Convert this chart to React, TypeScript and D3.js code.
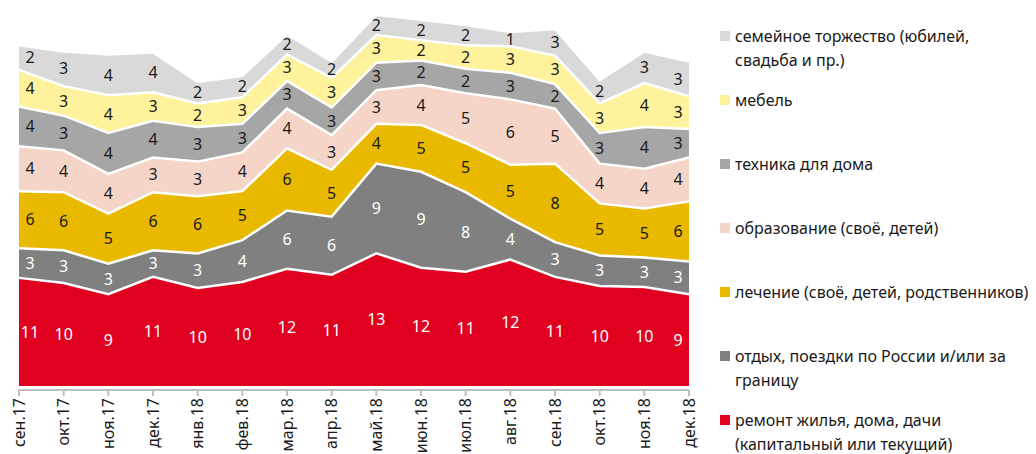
import React from 'react';
import * as d3 from 'd3';

const months = ['сен.17', 'окт.17', 'ноя.17', 'дек.17', 'янв.18', 'фев.18', 'мар.18', 'апр.18',
  'май.18', 'июн.18', 'июл.18', 'авг.18', 'сен.18', 'окт.18', 'ноя.18', 'дек.18'];

// bottom to top
const remont = [10.6, 10.1, 9.0, 10.7, 9.6, 10.2, 11.5, 10.9, 13.0, 11.6, 11.2, 12.4, 10.7, 9.8, 9.7, 9.0];
const otdyh = [2.9, 3.2, 3.0, 2.6, 3.4, 4.1, 5.7, 5.7, 8.8, 9.4, 7.8, 4.0, 3.4, 3.0, 2.9, 3.2];
const lechenie = [5.6, 5.7, 4.9, 5.7, 5.6, 4.8, 6.1, 4.6, 3.9, 4.6, 4.8, 5.3, 7.7, 5.1, 4.8, 5.9];
const obrazovanie = [4.4, 4.1, 3.9, 3.4, 3.4, 3.8, 3.9, 3.4, 3.3, 3.9, 4.9, 6.4, 5.4, 3.9, 3.9, 4.3];
const tehnika = [3.9, 3.4, 4.0, 3.6, 3.4, 2.8, 2.7, 2.7, 2.7, 2.4, 2.4, 2.6, 2.4, 3.0, 4.1, 2.8];
const mebel = [3.6, 2.9, 3.7, 2.8, 2.3, 2.6, 2.6, 2.9, 2.7, 2.0, 2.3, 2.6, 2.8, 2.9, 4.3, 3.2];
const torzhestvo = [2.4, 3.4, 4.0, 3.9, 2.1, 2.1, 2.0, 1.6, 2.0, 2.0, 2.0, 1.4, 2.6, 2.3, 3.1, 3.4];

const series = [
  { key: 'remont', values: remont, color: '#e0001f', text: '#ffffff', label: ['ремонт жилья, дома, дачи', '(капитальный или текущий)'] },
  { key: 'otdyh', values: otdyh, color: '#808080', text: '#ffffff', label: ['отдых, поездки по России и/или за', 'границу'] },
  { key: 'lechenie', values: lechenie, color: '#e9b900', text: '#1a1a1a', label: ['лечение (своё, детей, родственников)'] },
  { key: 'obrazovanie', values: obrazovanie, color: '#f6d5c9', text: '#1a1a1a', label: ['образование (своё, детей)'] },
  { key: 'tehnika', values: tehnika, color: '#a6a6a6', text: '#1a1a1a', label: ['техника для дома'] },
  { key: 'mebel', values: mebel, color: '#fef29c', text: '#1a1a1a', label: ['мебель'] },
  { key: 'torzhestvo', values: torzhestvo, color: '#d9d9d9', text: '#1a1a1a', label: ['семейное торжество (юбилей,', 'свадьба и пр.)'] },
];

const W = 1036;
const H = 454;
const FONT = "'Noto Sans', 'DejaVu Sans', sans-serif";

export default function App() {
  const x = d3.scalePoint<string>().domain(months).range([19, 689]);
  const y = d3.scaleLinear().domain([0, 37]).range([386, 8.6]);

  const rows = months.map((m, i) => {
    const r: any = { m };
    series.forEach(s => { r[s.key] = s.values[i]; });
    return r;
  });
  const stacked = d3.stack<any>().keys(series.map(s => s.key))(rows);

  const area = d3.area<any>()
    .x(d => x(d.data.m) as number)
    .y0(d => y(d[0]))
    .y1(d => y(d[1]));
  const topLine = d3.line<any>()
    .x(d => x(d.data.m) as number)
    .y(d => y(d[1]));

  const legendItems = [...series].reverse();
  const axisY = 390;

  return (
    <svg width={W} height={H} style={{ position: 'absolute', left: 0, top: 0, background: '#fff' }}>
      {stacked.map((layer, li) => (
        <path key={layer.key} d={area(layer) || ''} fill={series[li].color} />
      ))}
      {stacked.map(layer => (
        <path key={'l' + layer.key} d={topLine(layer) || ''} fill="none" stroke="#fff" strokeWidth={2.5} />
      ))}
      {stacked.map((layer, li) =>
        layer.map((d, i) => {
          const px = (x(d.data.m) as number) + (i === 0 ? 11 : i === months.length - 1 ? -11 : 0);
          return (
            <text key={layer.key + i} x={px} y={y((d[0] + d[1]) / 2)} dy="0.35em" textAnchor="middle"
              fontFamily={FONT} fontSize={16} fill={series[li].text}>
              {Math.round(series[li].values[i])}
            </text>
          );
        })
      )}

      {/* x axis */}
      <line x1={x(months[0])} x2={x(months[months.length - 1])} y1={axisY} y2={axisY} stroke="#bfbfbf" strokeWidth={2} />
      {months.map(m => (
        <g key={m} transform={`translate(${x(m)},${axisY})`}>
          <line y1={0} y2={6} stroke="#bfbfbf" strokeWidth={2} />
          <text transform="rotate(-90)" x={-8} y={0} dy="0.35em" textAnchor="end"
            fontFamily={FONT} fontSize={16} fill="#1a1a1a">{m}</text>
        </g>
      ))}

      {/* legend */}
      {legendItems.map((s, i) => {
        const ly = 36 + i * 64;
        return (
          <g key={'lg' + s.key}>
            <rect x={720} y={ly - 5} width={10} height={10} fill={s.color} />
            {s.label.map((t, j) => (
              <text key={j} x={735} y={ly + j * 24} dy="0.35em" fontFamily={FONT} fontSize={16} fill="#1a1a1a">{t}</text>
            ))}
          </g>
        );
      })}
    </svg>
  );
}
